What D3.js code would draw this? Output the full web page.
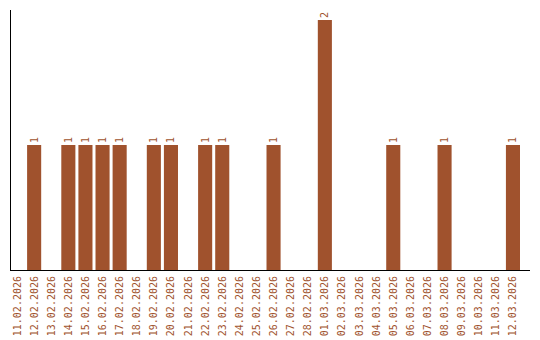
<!DOCTYPE html>
<html><head><meta charset="utf-8">
<script src="https://cdn.jsdelivr.net/npm/d3@7"></script>
<style>body{margin:0;background:#fff;} svg{display:block;}</style>
</head><body>
<svg id="c" width="540" height="340"></svg>
<script>
const categories = ["11.02.2026","12.02.2026","13.02.2026","14.02.2026","15.02.2026","16.02.2026","17.02.2026","18.02.2026","19.02.2026","20.02.2026","21.02.2026","22.02.2026","23.02.2026","24.02.2026","25.02.2026","26.02.2026","27.02.2026","28.02.2026","01.03.2026","02.03.2026","03.03.2026","04.03.2026","05.03.2026","06.03.2026","07.03.2026","08.03.2026","09.03.2026","10.03.2026","11.03.2026","12.03.2026"];
const values = [0,1,0,1,1,1,1,0,1,1,0,1,1,0,0,1,0,0,2,0,0,0,1,0,0,1,0,0,0,1];

(function(){
const color = "#A0522D";
const svg = d3.select("#c");
const mLeft = 10, mRight = 530, mTop = 10, mBottom = 270;
const x = d3.scaleBand().domain(categories).range([mLeft, mLeft + 17*categories.length]).paddingInner(3/17).paddingOuter(0).align(0);
const y = d3.scaleLinear().domain([0, d3.max(values)]).range([mBottom, 20]);

const data = categories.map((c,i)=>({c, v: values[i]}));

svg.selectAll("rect.bar").data(data.filter(d=>d.v>0)).join("rect")
  .attr("class","bar")
  .attr("x", d=>x(d.c))
  .attr("width", x.bandwidth())
  .attr("y", d=>y(d.v))
  .attr("height", d=>y(0)-y(d.v))
  .attr("fill", color);

svg.selectAll("text.val").data(data.filter(d=>d.v>0)).join("text")
  .attr("class","val")
  .attr("transform", d=>`translate(${x(d.c)+x.bandwidth()/2+3.5},${y(d.v)-2}) rotate(-90)`)
  .attr("font-family","DejaVu Sans Mono, monospace")
  .attr("font-size", 10)
  .attr("fill", color)
  .text(d=>d.v);

svg.append("line").attr("x1",mLeft+0.5).attr("x2",mLeft+0.5).attr("y1",mTop).attr("y2",mBottom+1).attr("stroke","#000").attr("stroke-width",1).attr("shape-rendering","crispEdges");
svg.append("line").attr("x1",mLeft).attr("x2",mRight).attr("y1",mBottom+0.5).attr("y2",mBottom+0.5).attr("stroke","#000").attr("stroke-width",1).attr("shape-rendering","crispEdges");

svg.selectAll("text.cat").data(categories).join("text")
  .attr("class","cat")
  .attr("transform", d=>`translate(${x(d)+x.bandwidth()/2+3.5},${mBottom+6}) rotate(-90)`)
  .attr("text-anchor","end")
  .attr("font-family","DejaVu Sans Mono, monospace")
  .attr("font-size", 10)
  .attr("fill", color)
  .text(d=>d);
})();
</script>
</body></html>
